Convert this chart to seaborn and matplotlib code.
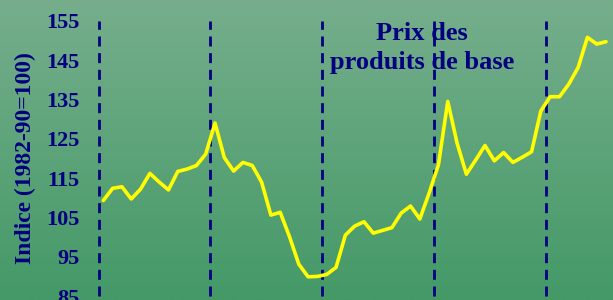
import matplotlib
matplotlib.use("Agg")
import matplotlib.pyplot as plt
import numpy as np
import pandas as pd
import seaborn as sns

# quarterly commodity price index (1982-90=100)
index_value = [109.3, 112.4, 112.8, 109.7, 112.2, 116.2, 114.0, 112.0, 116.7, 117.3, 118.2, 121.1,
               129.0, 120.2, 116.8, 119.0, 118.2, 114.0, 105.6, 106.3, 100.1, 93.1, 89.9, 90.0,
               90.5, 92.3, 100.5, 102.8, 103.9, 101.0, 101.7, 102.4, 106.1, 107.9, 104.6, 111.2,
               118.4, 134.5, 123.9, 116.0, 119.6, 123.3, 119.4, 121.5, 119.0, 120.3, 121.7, 132.1,
               135.7, 135.7, 138.9, 143.1, 150.8, 149.1, 149.7]
quarter = list(range(len(index_value)))
period_breaks = [-0.5, 11.5, 23.5, 35.5, 47.5]
y_ticks = [85, 95, 105, 115, 125, 135, 145, 155]

TITLE = "Prix des\nproduits de base"
YLABEL = "Indice (1982-90=100)"
NAVY = "#000080"

sns.set_theme(style="white")
plt.rcParams["font.family"] = ["Liberation Serif", "DejaVu Serif"]

df = pd.DataFrame({"quarter": quarter, "value": index_value})

fig = plt.figure(figsize=(6.13, 3.0), dpi=100)

# green vertical gradient behind everything
bg = fig.add_axes([0, 0, 1, 1], zorder=0)
top = np.array([0x76, 0xAE, 0x8C]) / 255
bottom = np.array([0x44, 0x99, 0x67]) / 255
t = np.linspace(0, 1, 256)[:, None]
grad = (top * (1 - t) + bottom * t)[:, None, :]
bg.imshow(grad, aspect="auto", extent=[0, 1, 0, 1])
bg.set_axis_off()

ax = fig.add_axes([90 / 613, 0, 1 - 90 / 613, 1], zorder=1)
ax.patch.set_alpha(0)

ax.vlines(period_breaks, 85, 155, colors=NAVY, lw=2.0, linestyles=(0, (3.6, 2.4)), zorder=2)
sns.lineplot(data=df, x="quarter", y="value", color="#FFFF00", lw=2.6, ax=ax, zorder=3)

ax.set_xlim(-1.43, 54.75)
ax.set_ylim(84.0, 160.3)
ax.set_xticks([])
ax.set_yticks(y_ticks)
ax.set_xlabel("")
ax.set_ylabel("")
ax.tick_params(axis="y", length=0, pad=7.5, labelsize=16, labelcolor=NAVY)
for lab in ax.get_yticklabels():
    lab.set_fontweight("bold")
for spine in ax.spines.values():
    spine.set_visible(False)

fig.text(25 / 613, 1 - 158 / 300, YLABEL, rotation=90, ha="center", va="center",
         fontsize=17, fontweight="bold", color=NAVY)
fig.text(422 / 613, 1 - 22 / 300, TITLE, ha="center", va="top", fontsize=19,
         fontweight="bold", color=NAVY, linespacing=1.35, zorder=1)

fig.savefig("out.png", dpi=100)
plt.close(fig)
